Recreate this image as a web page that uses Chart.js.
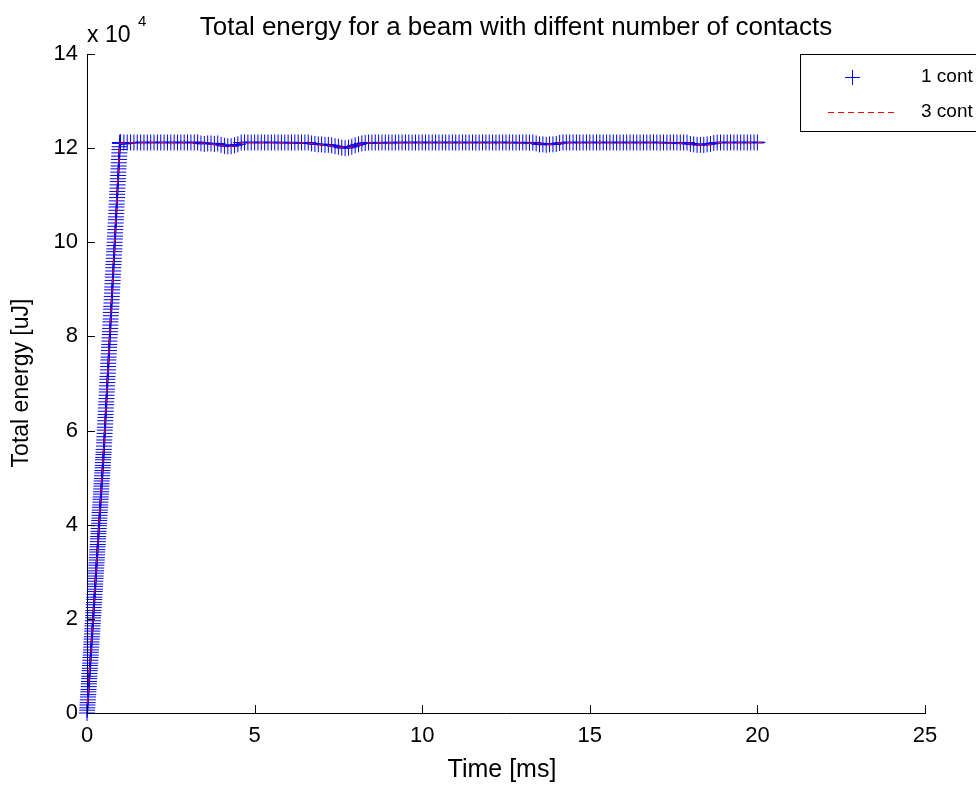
<!DOCTYPE html>
<html>
<head>
<meta charset="utf-8">
<script src="https://cdn.jsdelivr.net/npm/chart.js@4.4.1/dist/chart.umd.min.js"></script>
<style>
  html, body { margin: 0; padding: 0; background: #fff; }
  #energy { display: block; }
</style>
</head>
<body>
<canvas id="energy" width="976" height="785"></canvas>
<script>
// time samples [ms] for the marker run (1 cont)
var markerTime = [
  0.000, 0.005, 0.010, 0.015, 0.020, 0.025, 0.030, 0.035, 0.040, 0.045,
  0.050, 0.055, 0.060, 0.065, 0.070, 0.075, 0.080, 0.085, 0.090, 0.095,
  0.100, 0.105, 0.110, 0.115, 0.120, 0.125, 0.130, 0.135, 0.140, 0.145,
  0.150, 0.155, 0.160, 0.165, 0.170, 0.175, 0.180, 0.185, 0.190, 0.195,
  0.200, 0.205, 0.210, 0.215, 0.220, 0.225, 0.230, 0.235, 0.240, 0.245,
  0.250, 0.255, 0.260, 0.265, 0.270, 0.275, 0.280, 0.285, 0.290, 0.295,
  0.300, 0.305, 0.310, 0.315, 0.320, 0.325, 0.330, 0.335, 0.340, 0.345,
  0.350, 0.355, 0.360, 0.365, 0.370, 0.375, 0.380, 0.385, 0.390, 0.395,
  0.400, 0.405, 0.410, 0.415, 0.420, 0.425, 0.430, 0.435, 0.440, 0.445,
  0.450, 0.455, 0.460, 0.465, 0.470, 0.475, 0.480, 0.485, 0.490, 0.495,
  0.500, 0.505, 0.510, 0.515, 0.520, 0.525, 0.530, 0.535, 0.540, 0.545,
  0.550, 0.555, 0.560, 0.565, 0.570, 0.575, 0.580, 0.585, 0.590, 0.595,
  0.600, 0.605, 0.610, 0.615, 0.620, 0.625, 0.630, 0.635, 0.640, 0.645,
  0.650, 0.655, 0.660, 0.665, 0.670, 0.675, 0.680, 0.685, 0.690, 0.695,
  0.700, 0.705, 0.710, 0.715, 0.720, 0.725, 0.730, 0.735, 0.740, 0.745,
  0.750, 0.755, 0.760, 0.765, 0.770, 0.775, 0.780, 0.785, 0.790, 0.795,
  0.800, 0.805, 0.810, 0.815, 0.820, 0.825, 0.830, 0.835, 0.840, 0.845,
  0.850, 0.855, 0.860, 0.865, 0.870, 0.875, 0.880, 0.885, 0.890, 0.895,
  0.900, 0.905, 0.910, 0.915, 0.920, 0.925, 0.930, 0.935, 0.940, 0.945,
  0.950, 0.955, 0.960, 0.965, 0.970, 0.975, 0.980, 0.985, 0.990, 0.995,
  1.000,
  1.1, 1.2, 1.3, 1.4, 1.5, 1.6, 1.7, 1.8, 1.9, 2.0,
  2.1, 2.2, 2.3, 2.4, 2.5, 2.6, 2.7, 2.8, 2.9, 3.0,
  3.1, 3.2, 3.3, 3.4, 3.5, 3.6, 3.7, 3.8, 3.9, 4.0,
  4.1, 4.2, 4.3, 4.4, 4.5, 4.6, 4.7, 4.8, 4.9, 5.0,
  5.1, 5.2, 5.3, 5.4, 5.5, 5.6, 5.7, 5.8, 5.9, 6.0,
  6.1, 6.2, 6.3, 6.4, 6.5, 6.6, 6.7, 6.8, 6.9, 7.0,
  7.1, 7.2, 7.3, 7.4, 7.5, 7.6, 7.7, 7.8, 7.9, 8.0,
  8.1, 8.2, 8.3, 8.4, 8.5, 8.6, 8.7, 8.8, 8.9, 9.0,
  9.1, 9.2, 9.3, 9.4, 9.5, 9.6, 9.7, 9.8, 9.9, 10.0,
  10.1, 10.2, 10.3, 10.4, 10.5, 10.6, 10.7, 10.8, 10.9, 11.0,
  11.1, 11.2, 11.3, 11.4, 11.5, 11.6, 11.7, 11.8, 11.9, 12.0,
  12.1, 12.2, 12.3, 12.4, 12.5, 12.6, 12.7, 12.8, 12.9, 13.0,
  13.1, 13.2, 13.3, 13.4, 13.5, 13.6, 13.7, 13.8, 13.9, 14.0,
  14.1, 14.2, 14.3, 14.4, 14.5, 14.6, 14.7, 14.8, 14.9, 15.0,
  15.1, 15.2, 15.3, 15.4, 15.5, 15.6, 15.7, 15.8, 15.9, 16.0,
  16.1, 16.2, 16.3, 16.4, 16.5, 16.6, 16.7, 16.8, 16.9, 17.0,
  17.1, 17.2, 17.3, 17.4, 17.5, 17.6, 17.7, 17.8, 17.9, 18.0,
  18.1, 18.2, 18.3, 18.4, 18.5, 18.6, 18.7, 18.8, 18.9, 19.0,
  19.1, 19.2, 19.3, 19.4, 19.5, 19.6, 19.7, 19.8, 19.9, 20.0
];

// total energy [x 10^4 uJ], 1 contact
var energy1 = [
  0.00, 0.06, 0.11, 0.17, 0.22, 0.28, 0.34, 0.39, 0.45, 0.50,
  0.56, 0.62, 0.67, 0.73, 0.78, 0.84, 0.90, 0.95, 1.01, 1.06,
  1.12, 1.18, 1.23, 1.29, 1.34, 1.40, 1.46, 1.51, 1.57, 1.62,
  1.68, 1.74, 1.79, 1.85, 1.90, 1.96, 2.02, 2.07, 2.13, 2.18,
  2.24, 2.30, 2.35, 2.41, 2.46, 2.52, 2.58, 2.63, 2.69, 2.74,
  2.80, 2.86, 2.91, 2.97, 3.02, 3.08, 3.14, 3.19, 3.25, 3.30,
  3.36, 3.42, 3.47, 3.53, 3.58, 3.64, 3.70, 3.75, 3.81, 3.86,
  3.92, 3.98, 4.03, 4.09, 4.14, 4.20, 4.26, 4.31, 4.37, 4.42,
  4.48, 4.54, 4.59, 4.65, 4.70, 4.76, 4.82, 4.87, 4.93, 4.98,
  5.04, 5.10, 5.15, 5.21, 5.26, 5.32, 5.38, 5.43, 5.49, 5.54,
  5.60, 5.67, 5.74, 5.80, 5.87, 5.94, 6.01, 6.07, 6.14, 6.21,
  6.28, 6.34, 6.41, 6.48, 6.55, 6.61, 6.68, 6.75, 6.82, 6.88,
  6.95, 7.02, 7.09, 7.15, 7.22, 7.29, 7.36, 7.43, 7.50, 7.56,
  7.63, 7.70, 7.77, 7.83, 7.90, 7.97, 8.04, 8.10, 8.17, 8.24,
  8.31, 8.37, 8.44, 8.51, 8.58, 8.64, 8.71, 8.78, 8.85, 8.92,
  8.99, 9.05, 9.12, 9.19, 9.26, 9.32, 9.39, 9.46, 9.53, 9.59,
  9.66, 9.73, 9.80, 9.86, 9.93, 10.00, 10.07, 10.13, 10.20, 10.27,
  10.34, 10.41, 10.48, 10.54, 10.61, 10.68, 10.75, 10.81, 10.88, 10.95,
  11.02, 11.08, 11.15, 11.22, 11.29, 11.35, 11.42, 11.49, 11.56, 11.62,
  11.69, 11.76, 11.83, 11.90, 11.97, 12.03, 12.10, 12.12, 12.12, 12.12,
  12.12,
  12.12, 12.12, 12.12, 12.12, 12.12, 12.12, 12.12, 12.12, 12.12, 12.12,
  12.12, 12.12, 12.12, 12.12, 12.12, 12.12, 12.12, 12.12, 12.12, 12.12,
  12.12, 12.12, 12.12, 12.10, 12.09, 12.10, 12.10, 12.09, 12.10, 12.07,
  12.05, 12.04, 12.04, 12.06, 12.08, 12.12, 12.12, 12.12, 12.12, 12.12,
  12.12, 12.12, 12.12, 12.12, 12.12, 12.12, 12.12, 12.12, 12.12, 12.12,
  12.12, 12.12, 12.12, 12.12, 12.12, 12.12, 12.10, 12.09, 12.08, 12.08,
  12.07, 12.07, 12.06, 12.04, 12.03, 12.01, 12.00, 12.01, 12.03, 12.06,
  12.08, 12.10, 12.11, 12.12, 12.12, 12.12, 12.12, 12.12, 12.12, 12.12,
  12.12, 12.12, 12.12, 12.12, 12.12, 12.12, 12.12, 12.12, 12.12, 12.12,
  12.12, 12.12, 12.12, 12.12, 12.12, 12.12, 12.12, 12.12, 12.12, 12.12,
  12.12, 12.12, 12.12, 12.12, 12.12, 12.12, 12.12, 12.12, 12.12, 12.12,
  12.12, 12.12, 12.12, 12.12, 12.12, 12.12, 12.12, 12.12, 12.12, 12.12,
  12.12, 12.12, 12.12, 12.10, 12.08, 12.08, 12.07, 12.08, 12.08, 12.09,
  12.11, 12.12, 12.12, 12.12, 12.12, 12.12, 12.12, 12.12, 12.12, 12.12,
  12.12, 12.12, 12.12, 12.12, 12.12, 12.12, 12.12, 12.12, 12.12, 12.12,
  12.12, 12.12, 12.12, 12.12, 12.12, 12.12, 12.12, 12.12, 12.12, 12.12,
  12.12, 12.12, 12.12, 12.12, 12.12, 12.12, 12.12, 12.12, 12.12, 12.09,
  12.08, 12.07, 12.07, 12.07, 12.08, 12.09, 12.11, 12.12, 12.12, 12.12,
  12.12, 12.12, 12.12, 12.12, 12.12, 12.12, 12.12, 12.12, 12.12, 12.12
];

// coarser samples for the two line runs
var lineTime = [
  0, 0.1, 0.2, 0.3, 0.4, 0.5, 0.6, 0.7, 0.8, 0.9, 0.98,
  1.5, 2.5, 3.4, 3.7, 4.0, 4.2, 4.4, 4.6, 5.5, 6.5,
  6.9, 7.2, 7.5, 7.7, 7.9, 8.1, 8.3, 9.5, 11, 12.5,
  13.4, 13.7, 14.0, 14.2, 15.5, 17, 18.0, 18.3, 18.6, 18.8,
  19.5, 20.2
];

// 3 contacts (red dashed)
var energy3 = [
  0, 1.12, 2.24, 3.36, 4.48, 5.60, 6.95, 8.31, 9.66, 11.02, 12.10,
  12.12, 12.12, 12.11, 12.09, 12.06, 12.03, 12.05, 12.12, 12.12, 12.11,
  12.08, 12.06, 12.03, 12.00, 12.02, 12.07, 12.11, 12.12, 12.12, 12.12,
  12.10, 12.08, 12.09, 12.12, 12.12, 12.12, 12.09, 12.07, 12.08, 12.12,
  12.12, 12.12
];

// 5 contacts (blue solid)
var energy5 = [
  0, 1.05, 2.15, 3.28, 4.40, 5.52, 6.88, 8.22, 9.58, 10.95, 12.08,
  12.12, 12.12, 12.12, 12.10, 12.07, 12.05, 12.06, 12.12, 12.12, 12.11,
  12.08, 12.07, 12.04, 12.01, 12.03, 12.07, 12.11, 12.12, 12.12, 12.12,
  12.11, 12.09, 12.09, 12.12, 12.12, 12.12, 12.10, 12.08, 12.09, 12.12,
  12.12, 12.12
];

var xTicks = [0, 5, 10, 15, 20, 25];
var yTicks = [0, 2, 4, 6, 8, 10, 12, 14];

var FONT = '"Liberation Sans", Arial, Helvetica, sans-serif';

function pairs(xs, ys) {
  return xs.map(function (x, i) { return { x: x, y: ys[i] }; });
}

// matlab-style decorations: inward ticks, title, labels, exponent, legend box
var decorations = {
  id: 'decorations',
  afterDraw: function (chart) {
    var ctx = chart.ctx;
    var area = chart.chartArea;
    var xs = chart.scales.x;
    var ys = chart.scales.y;

    ctx.save();
    ctx.strokeStyle = '#000';
    ctx.lineWidth = 1;
    ctx.beginPath();
    xTicks.forEach(function (v) {
      var px = Math.round(xs.getPixelForValue(v)) + 0.5;
      ctx.moveTo(px, area.bottom);
      ctx.lineTo(px, area.bottom - 8);
    });
    yTicks.forEach(function (v) {
      var py = Math.round(ys.getPixelForValue(v)) + 0.5;
      ctx.moveTo(area.left, py);
      ctx.lineTo(area.left + 8, py);
    });
    ctx.stroke();

    ctx.fillStyle = '#000';
    ctx.textBaseline = 'middle';
    ctx.textAlign = 'center';
    ctx.font = '26px ' + FONT;
    ctx.fillText('Total energy for a beam with diffent number of contacts', 516, 28);
    ctx.font = '25px ' + FONT;
    ctx.fillText('Time [ms]', 502, 770);

    ctx.save();
    ctx.font = '23px ' + FONT;
    ctx.translate(22, 383);
    ctx.rotate(-Math.PI / 2);
    ctx.fillText('Total energy [uJ]', 0, 0);
    ctx.restore();

    ctx.textAlign = 'left';
    ctx.textBaseline = 'alphabetic';
    ctx.font = '23px ' + FONT;
    ctx.fillText('x 10', 87, 42);
    ctx.font = '15px ' + FONT;
    ctx.fillText('4', 138, 26);

    // legend
    ctx.fillStyle = '#fff';
    ctx.fillRect(800, 54, 180, 77);
    ctx.strokeStyle = '#000';
    ctx.strokeRect(800.5, 54.5, 180, 77);
    ctx.strokeStyle = '#0000ff';
    ctx.beginPath();
    ctx.moveTo(845, 77.5); ctx.lineTo(860, 77.5);
    ctx.moveTo(852.5, 70); ctx.lineTo(852.5, 85);
    ctx.stroke();
    ctx.strokeStyle = '#ff0000';
    ctx.setLineDash([6, 4]);
    ctx.beginPath();
    ctx.moveTo(828, 112.5); ctx.lineTo(898, 112.5);
    ctx.stroke();
    ctx.setLineDash([]);
    ctx.fillStyle = '#000';
    ctx.textBaseline = 'middle';
    ctx.font = '19px ' + FONT;
    ctx.fillText('1 cont', 921, 77);
    ctx.fillText('3 cont', 921, 112);
    ctx.restore();
  }
};

new Chart(document.getElementById('energy'), {
  type: 'scatter',
  data: {
    datasets: [
      {
        label: '3 cont',
        data: pairs(lineTime, energy3),
        showLine: true,
        borderColor: '#ff0000',
        borderWidth: 1,
        borderDash: [6, 4],
        pointRadius: 0,
        tension: 0
      },
      {
        label: '5 cont',
        data: pairs(lineTime, energy5),
        showLine: true,
        borderColor: '#0000ff',
        borderWidth: 2,
        pointRadius: 0,
        tension: 0
      },
      {
        label: '1 cont',
        data: pairs(markerTime, energy1),
        showLine: false,
        pointStyle: 'cross',
        pointRadius: 8,
        borderColor: '#0000ff',
        backgroundColor: '#0000ff',
        pointBorderWidth: 1,
        clip: false
      }
    ]
  },
  plugins: [decorations],
  options: {
    responsive: false,
    animation: false,
    events: [],
    layout: { padding: { left: 0, top: 54, right: 51, bottom: 0 } },
    plugins: {
      legend: { display: false },
      title: { display: false },
      tooltip: { enabled: false }
    },
    scales: {
      x: {
        type: 'linear',
        min: 0,
        max: 25,
        afterFit: function (s) { s.height = 72; },
        afterBuildTicks: function (s) { s.ticks = xTicks.map(function (v) { return { value: v }; }); },
        grid: { display: false, drawTicks: false },
        border: { display: true, color: '#000', width: 1 },
        ticks: { color: '#000', padding: 10, maxRotation: 0, font: { family: FONT, size: 22 } }
      },
      y: {
        type: 'linear',
        min: 0,
        max: 14,
        afterFit: function (s) { s.width = 87; },
        afterBuildTicks: function (s) { s.ticks = yTicks.map(function (v) { return { value: v }; }); },
        grid: { display: false, drawTicks: false },
        border: { display: true, color: '#000', width: 1 },
        ticks: { color: '#000', padding: 9, font: { family: FONT, size: 22 } }
      }
    }
  }
});
</script>
</body>
</html>
